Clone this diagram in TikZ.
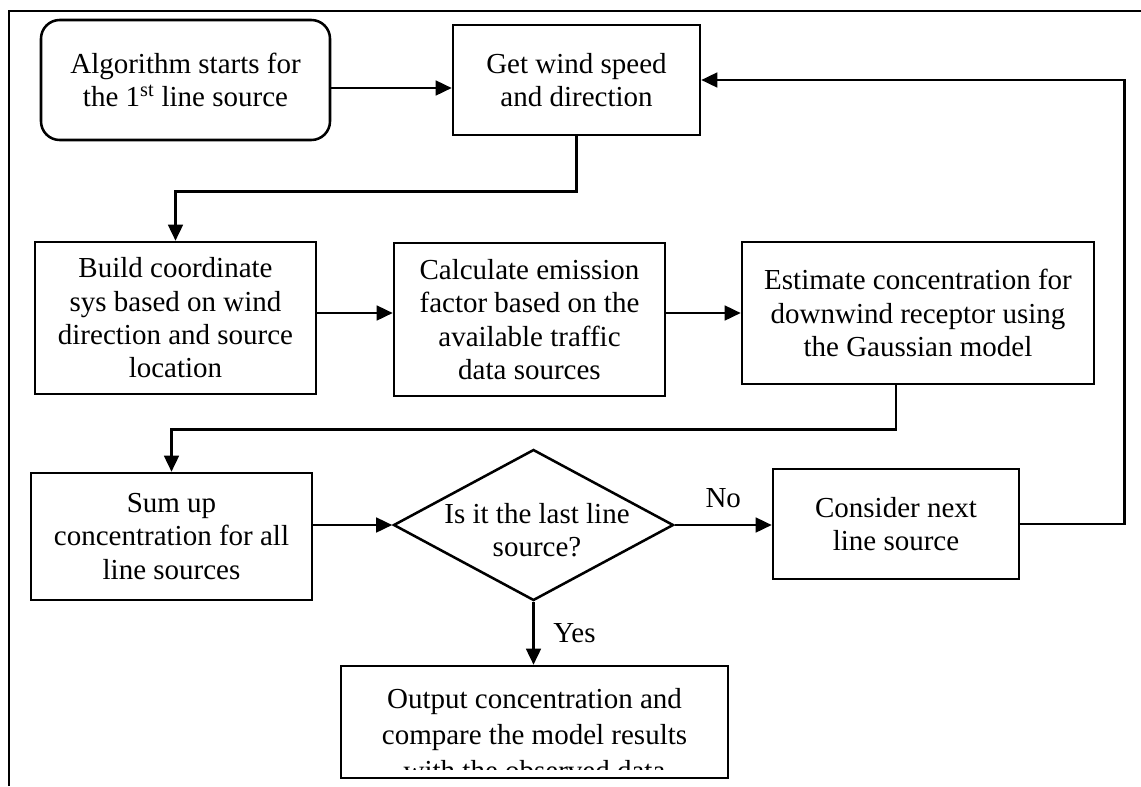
\documentclass[tikz,border=0pt]{standalone}
\usepackage{fontspec}
\setmainfont{Liberation Serif}
\usetikzlibrary{arrows.meta,shapes.geometric}
\newdimen\px
\px=0.75pt
\tikzset{
  every picture/.style={line width=1.9pt},
  txt/.style={font=\fontsize{21.75pt}{25pt}\selectfont, align=center, inner sep=0pt},
  stepbox/.style 2 args={draw, rectangle, txt, minimum width=#1\px, minimum height=#2\px},
  arr/.style={-{Triangle[length=12pt,width=11pt]}},
  link/.style={line width=1.9pt},
}
\begin{document}
\begin{tikzpicture}[x=0.75pt,y=-0.75pt]
\useasboundingbox (0,0) rectangle (1141,786);
% page frame (open to the right and bottom)
\draw[link] (9,786) -- (9,11) -- (1141,11);

% top row
\node[stepbox={289}{120}, rounded corners=14pt] (start) at (185.5,80)
  {Algorithm starts for\\the 1\textsuperscript{st} line source};
\node[stepbox={247}{110}] (wind) at (576.5,80) {Get wind speed\\and direction};

% middle row
\node[stepbox={281}{152}] (build) at (175.5,318)
  {Build coordinate\\sys based on wind\\direction and source\\location};
\node[stepbox={271}{153}] (calc) at (529.5,319.5)
  {Calculate emission\\factor based on the\\available traffic\\data sources};
\node[stepbox={352}{142}] (est) at (918,313)
  {Estimate concentration for\\downwind receptor using\\the Gaussian model};

% bottom row
\node[stepbox={281}{127}] (sum) at (171.5,536.5)
  {Sum up\\concentration for all\\line sources};
\node[draw, diamond, minimum width=280\px, minimum height=151\px, inner sep=0pt] (dia) at (533.5,525) {};
\node[txt] (diatext) at (537,530) {Is it the last line\\source?};
\node[stepbox={246}{110}] (next) at (896,524) {Consider next\\line source};

% output box, its text cut off by the lower margin
\node[stepbox={387}{112}] (out) at (534.5,722) {};
\begin{scope}
  \clip ([yshift=-1pt]out.north west) rectangle ([yshift=7.5pt]out.south east);
  \node[txt, font=\fontsize{21.75pt}{27pt}\selectfont, anchor=north] (outtext) at ([yshift=-17pt]out.north)
    {Output concentration and\\compare the model results\\with the observed data};
\end{scope}

% connectors
\draw[arr] ([yshift=-6pt]start.east) -- ([yshift=-6pt]wind.west);
\draw[arr] (wind.south) -- ++(0,55) -| (build.north);
\draw[arr] (build.east |- 0,313) -- (calc.west |- 0,313);
\draw[arr] (calc.east |- 0,313) -- (est.west |- 0,313);
\draw[arr] (est.south -| next.north) -- ++(0,44) -| (sum.north);
\draw[arr] (sum.east |- dia.west) -- (dia.west);
\draw[arr] (dia.east) -- node[txt, above=12pt] (nolabel) {No} (next.west |- dia.east);
\draw[arr] (next.east) -- ++(104,0) |- (wind.east);
\draw[arr] (dia.south) -- node[txt, right=14pt] (yeslabel) {Yes} (dia.south |- out.north);
\end{tikzpicture}
\end{document}
